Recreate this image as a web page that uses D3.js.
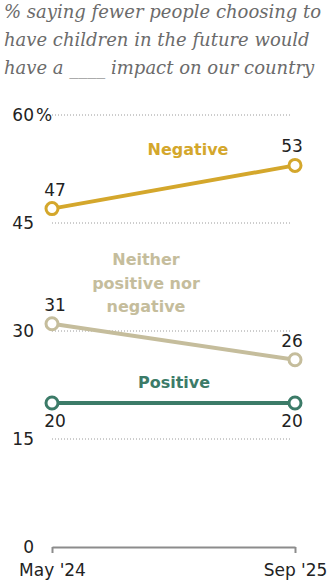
<!DOCTYPE html>
<html>
<head>
<meta charset="utf-8">
<script src="https://cdn.jsdelivr.net/npm/d3@7"></script>
<style>
  body { margin: 0; background: #fff; }
  svg { display: block; }
</style>
</head>
<body>
<svg width="335" height="583"></svg>
<script>
var svg = d3.select('svg');

// survey waves and shares
var waves = ["May '24", "Sep '25"];
var negative = [47, 53];
var neither = [31, 26];
var positive = [20, 20];
var yTicks = [0, 15, 30, 45, 60];
var titleLines = ["% saying fewer people choosing to", "have children in the future would", "have a ____ impact on our country"];

var x = d3.scalePoint().domain(waves).range([52, 295]);
var y = d3.scaleLinear().domain([0, 60]).range([547, 115]);

var sans = "'DejaVu Sans', Verdana, sans-serif";

// title
svg.append('g').selectAll('text')
    .data(titleLines).enter()
    .append('text')
    .attr('x', 4)
    .attr('y', function(d, i){ return 18 + i * 28; })
    .attr('font-family', "'DejaVu Serif', Georgia, serif")
    .attr('font-style', 'italic')
    .attr('font-size', 18)
    .attr('fill', '#6b6b6b')
    .text(function(d){ return d; });

// gridlines
svg.append('g').selectAll('line')
    .data(yTicks.filter(function(d){ return d > 0; })).enter()
    .append('line')
    .attr('x1', 52)
    .attr('x2', 292)
    .attr('y1', function(d){ return y(d); })
    .attr('y2', function(d){ return y(d); })
    .attr('stroke', '#9a9a9a')
    .attr('stroke-width', 1)
    .attr('stroke-dasharray', '1,2');

// y tick labels
svg.append('g').selectAll('text')
    .data(yTicks).enter()
    .append('text')
    .attr('x', 34)
    .attr('y', function(d){ return y(d) + 6; })
    .attr('text-anchor', 'end')
    .attr('font-family', sans)
    .attr('font-size', 17)
    .attr('fill', '#222')
    .text(function(d){ return d; });

svg.append('text')
    .attr('x', 36)
    .attr('y', y(60) + 6)
    .attr('font-family', sans)
    .attr('font-size', 17)
    .attr('fill', '#222')
    .text('%');

// x axis
var xAxis = d3.axisBottom(x).tickSize(6).tickSizeOuter(0).tickPadding(11);
var gx = svg.append('g')
    .attr('transform', 'translate(0,' + y(0) + ')')
    .call(xAxis);
gx.select('.domain').attr('stroke', '#8c8c8c').attr('stroke-width', 2);
gx.selectAll('.tick line').attr('stroke', '#8c8c8c').attr('stroke-width', 2);
gx.selectAll('.tick text')
    .attr('font-family', sans)
    .attr('font-size', 17)
    .attr('fill', '#222');

var series = [
    {name: 'Negative', values: negative, color: '#d4a72c', labelPos: 'above'},
    {name: 'Neither', values: neither, color: '#c5bd9c', labelPos: 'above'},
    {name: 'Positive', values: positive, color: '#3c7b68', labelPos: 'below'}
];

var line = d3.line()
    .x(function(d, i){ return x(waves[i]); })
    .y(function(d){ return y(d); });

series.forEach(function(s){
    var g = svg.append('g');
    g.append('path')
        .attr('d', line(s.values))
        .attr('fill', 'none')
        .attr('stroke', s.color)
        .attr('stroke-width', 4);
    g.selectAll('circle')
        .data(s.values).enter()
        .append('circle')
        .attr('cx', function(d, i){ return x(waves[i]); })
        .attr('cy', function(d){ return y(d); })
        .attr('r', 6)
        .attr('fill', '#fff')
        .attr('stroke', s.color)
        .attr('stroke-width', 3);
    g.selectAll('text')
        .data(s.values).enter()
        .append('text')
        .attr('x', function(d, i){ return x(waves[i]) + (i === 0 ? 3 : -3); })
        .attr('y', function(d){ return s.labelPos === 'above' ? y(d) - 13 : y(d) + 24; })
        .attr('text-anchor', 'middle')
        .attr('font-family', sans)
        .attr('font-size', 17)
        .attr('fill', '#222')
        .text(function(d){ return d; });
});

// series names
function seriesLabel(lines, cx, baseline, color) {
    svg.append('g').selectAll('text')
        .data(lines).enter()
        .append('text')
        .attr('x', cx)
        .attr('y', function(d, i){ return baseline + i * 23.5; })
        .attr('text-anchor', 'middle')
        .attr('font-family', sans)
        .attr('font-weight', 'bold')
        .attr('font-size', 16)
        .attr('fill', color)
        .text(function(d){ return d; });
}
seriesLabel(['Negative'], 188, 155, '#d4a72c');
seriesLabel(['Neither', 'positive nor', 'negative'], 146, 265, '#c5bd9c');
seriesLabel(['Positive'], 174, 388, '#3c7b68');
</script>
</body>
</html>
